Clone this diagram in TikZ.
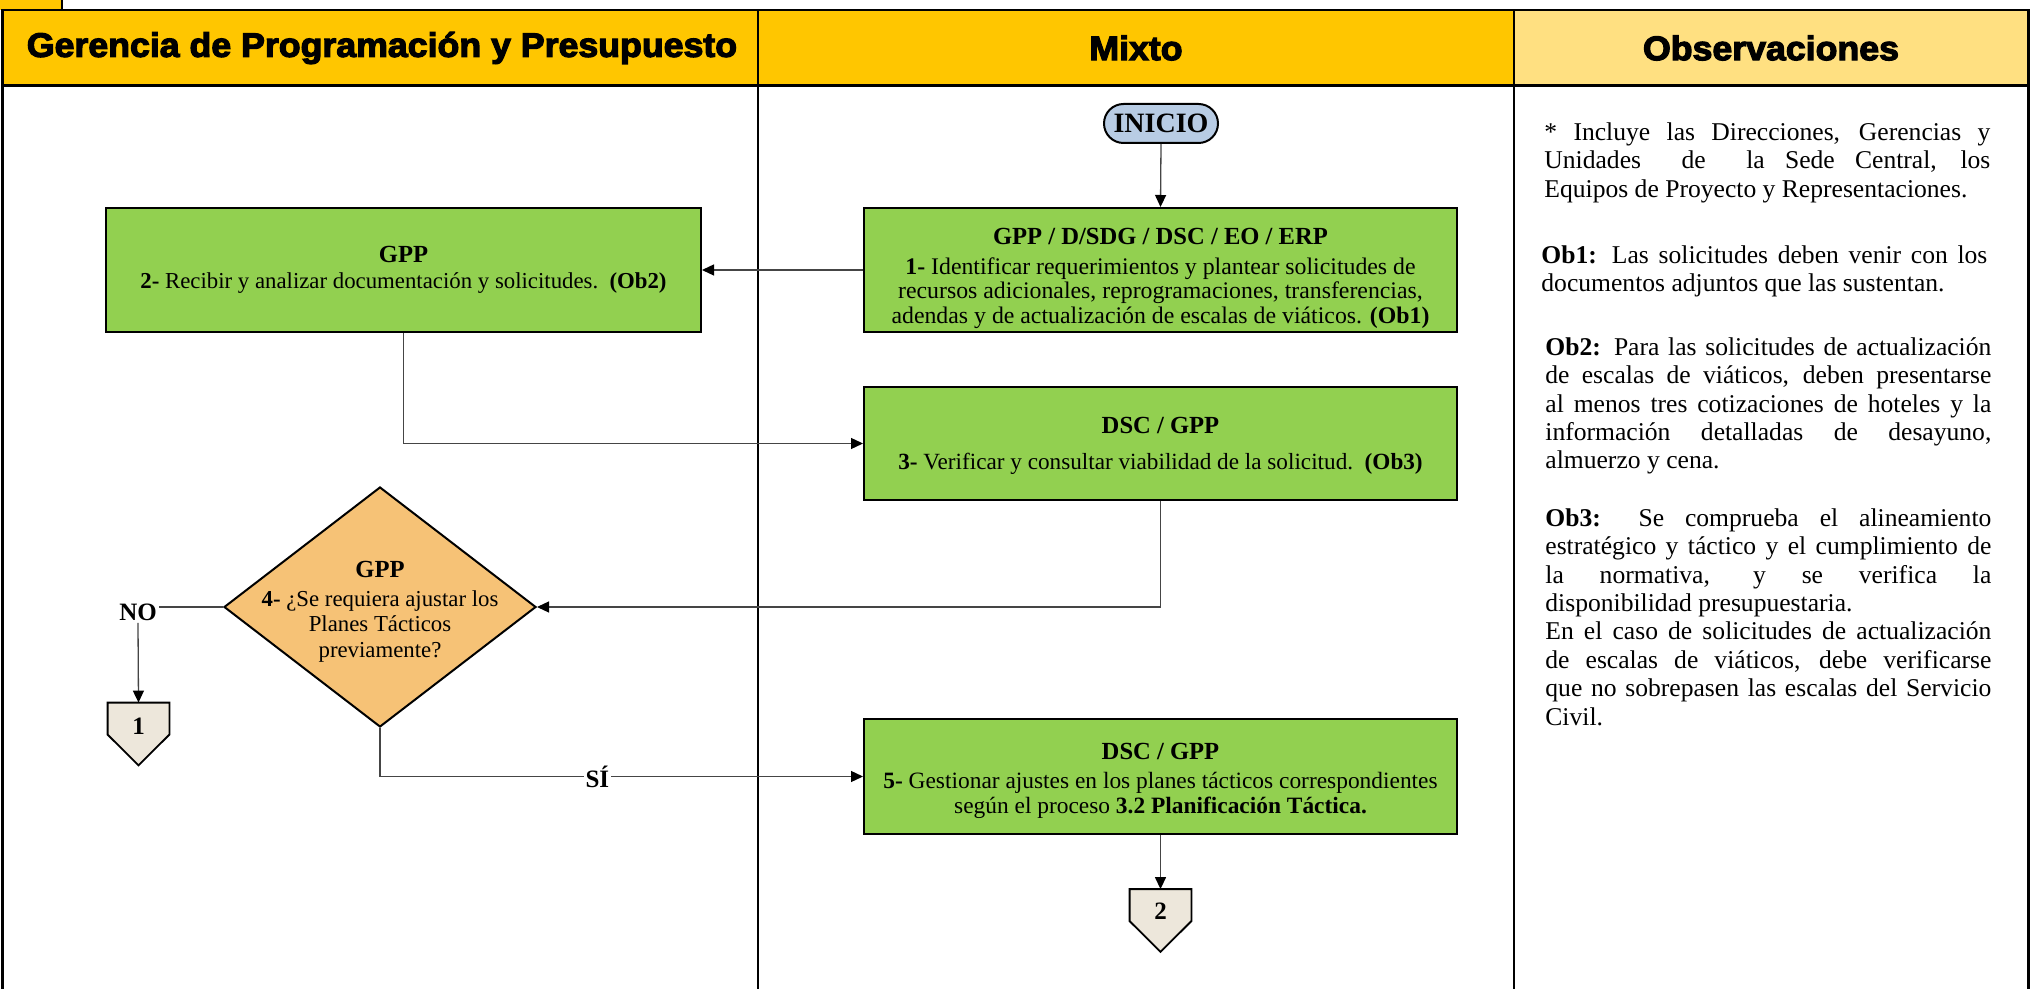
\documentclass[tikz,border=0pt]{standalone}
\usepackage{fontspec}
\setmainfont{Liberation Serif}
\newfontfamily\hdrfont[FakeStretch=1.05,BoldFeatures={FakeBold=3.5}]{Liberation Sans}
\usetikzlibrary{arrows.meta,shapes.geometric,calc}
\definecolor{hdrY}{HTML}{FFC600}
\definecolor{obsY}{HTML}{FFE081}
\definecolor{grn}{HTML}{92D050}
\definecolor{org}{HTML}{F6C276}
\definecolor{blu}{HTML}{B8CCE4}
\definecolor{beig}{HTML}{EDE7DB}
\definecolor{lin}{HTML}{454545}
\newcommand\hdtxt{\bfseries\fontsize{12.3}{12.2}\selectfont}
\begin{document}
\begin{tikzpicture}[x=0.5pt,y=-0.5pt,
  lane/.style={line width=1.25pt,draw=black},
  hdr/.style={font=\hdrfont\bfseries\fontsize{17}{17}\selectfont,inner sep=0pt},
  procbox/.style={draw=black,line width=1pt,fill=grn,minimum width=296.5pt,inner sep=0pt,align=center,font=\fontsize{11.6}{12.2}\selectfont},
  conn/.style={draw=black,line width=0.9pt,fill=beig},
  connpt/.style={minimum width=30.5pt,minimum height=31pt,inner sep=0pt},
  conntxt/.style={font=\bfseries\fontsize{12.5}{12.5}\selectfont,inner sep=0pt},
  ln/.style={draw=lin,line width=0.65pt},
  arr/.style={draw=lin,line width=0.65pt,-{Triangle[length=6pt,width=5.5pt,color=black]}},
  lbl/.style={font=\bfseries\fontsize{12.5}{12.5}\selectfont,inner sep=1pt},
  obs/.style={anchor=north west,text width=223pt,inner sep=0pt,align=justify,font=\fontsize{12.8}{14.2}\selectfont}
]
\useasboundingbox (0,0) rectangle (2031,989);

% top tab
\fill[hdrY] (0,0) rectangle (62,10);
\draw[line width=0.8pt] (62,0) -- (62,10);

% header band
\fill[hdrY] (2.5,10) rectangle (1514,85.5);
\fill[obsY] (1514,10) rectangle (2028.5,85.5);
\draw[lane] (2.5,10) rectangle (2028.5,85.5);
\draw[lane] (2.5,10) -- (2.5,989);
\draw[lane] (758,10) -- (758,989);
\draw[lane] (1514,10) -- (1514,989);
\draw[lane] (2028.5,10) -- (2028.5,989);

\node[hdr] (h1) at (382,48) {Gerencia de Programación y Presupuesto};
\node[hdr] (h2) at (1136,48) {Mixto};
\node[hdr] (h3) at (1771,48) {Observaciones};

% start
\node[draw=black,line width=1pt,fill=blu,rounded corners=9.75pt,minimum width=57pt,minimum height=19.5pt,inner sep=0pt,font=\bfseries\fontsize{14}{14}\selectfont] (ini) at (1161,123.5) {INICIO};

% process boxes
\node[procbox,minimum height=62pt,font=\fontsize{11.9}{12.2}\selectfont] (b1) at (1160.5,270) {\rule{0pt}{16.5pt}{\hdtxt GPP / D/SDG / DSC / EO / ERP}\\[2.5pt]
  \textbf{1-} Identificar requerimientos y plantear solicitudes de\\
  recursos adicionales, reprogramaciones, transferencias,\\
  adendas y de actualización de escalas de viáticos. \textbf{(Ob1)}};

\node[procbox,minimum height=62pt,minimum width=297.5pt,font=\fontsize{11.4}{12.2}\selectfont] (b2) at (403.5,270) {{\hdtxt GPP}\\[0.5pt]
  \textbf{2-} Recibir y analizar documentación y solicitudes.\ \ \textbf{(Ob2)}};

\node[procbox,minimum height=56.5pt] (b3) at (1160.5,443.5) {\rule{0pt}{10.5pt}{\hdtxt DSC / GPP}\\[6pt]
  \textbf{3-} Verificar y consultar viabilidad de la solicitud.\ \ \textbf{(Ob3)}};

\node[procbox,minimum height=57.5pt,font=\fontsize{11.7}{12.2}\selectfont] (b5) at (1160.5,776.5) {\rule{0pt}{12.5pt}{\hdtxt DSC / GPP}\\[2.5pt]
  \textbf{5-} Gestionar ajustes en los planes tácticos correspondientes\\
  según el proceso \textbf{3.2 Planificación Táctica.}};

% decision
\node[diamond,draw=black,line width=1pt,fill=org,minimum width=156pt,minimum height=120pt,inner sep=0pt] (dia) at (380,607) {};
\node[align=center,inner sep=0pt,font=\fontsize{11.4}{12.8}\selectfont] (diat) at (380,607) {\rule{0pt}{13pt}{\hdtxt GPP}\\[1.5pt]
  \textbf{4-} ¿Se requiera ajustar los\\ Planes Tácticos\\ previamente?};

% off-page connectors
\node[connpt] (c1) at (138.5,734) {};
\draw[conn] (c1.north west) -- (c1.north east) -- ($(c1.north east)+(0,32)$) -- (c1.south) -- ($(c1.north west)+(0,32)$) -- cycle;
\node[conntxt] (c1t) at ($(c1.north)+(0,24)$) {1};

\node[connpt] (c2) at (1160.5,920.5) {};
\draw[conn] (c2.north west) -- (c2.north east) -- ($(c2.north east)+(0,32)$) -- (c2.south) -- ($(c2.north west)+(0,32)$) -- cycle;
\node[conntxt] (c2t) at ($(c2.north)+(0,22)$) {2};

% NO label
\node[lbl] (no) at (138,612) {NO};

% connectors
\draw[arr] (ini.south) -- (b1.north);
\draw[arr] (b1.west) -- (b2.east);
\draw[arr] (b2.south) |- (b3.west);
\draw[arr] (b3.south) |- (dia.east);
\draw[ln] (dia.west) -- (dia.west -| no.east);
\draw[arr] (no.south) -- (c1.north);
\draw[arr] (dia.south) |- node[pos=0.725,lbl,fill=white] (si) {SÍ} (b5.west);
\draw[arr] (b5.south) -- (c2.north);

% observations
\node[obs] (o1) at (1544,120) {\strut * Incluye las Direcciones, Gerencias y\linebreak
Unidades\ \ de\ \ la Sede Central, los\linebreak
Equipos de Proyecto y Representaciones.};

\node[obs] (o2) at (1541,243) {\strut\textbf{Ob1:} Las solicitudes deben venir con los\linebreak
documentos adjuntos que las sustentan.};

\node[obs] (o3) at (1545,335) {\strut\textbf{Ob2:} Para las solicitudes de actualización\linebreak
de escalas de viáticos, deben presentarse\linebreak
al menos tres cotizaciones de hoteles y la\linebreak
información detalladas de desayuno,\linebreak
almuerzo y cena.};

\node[obs] (o4) at (1545,506) {\strut\textbf{Ob3:} Se comprueba el alineamiento\linebreak
estratégico y táctico y el cumplimiento de\linebreak
la normativa, y se verifica la\linebreak
disponibilidad presupuestaria.\\
En el caso de solicitudes de actualización\linebreak
de escalas de viáticos, debe verificarse\linebreak
que no sobrepasen las escalas del Servicio\linebreak
Civil.};
\end{tikzpicture}
\end{document}
